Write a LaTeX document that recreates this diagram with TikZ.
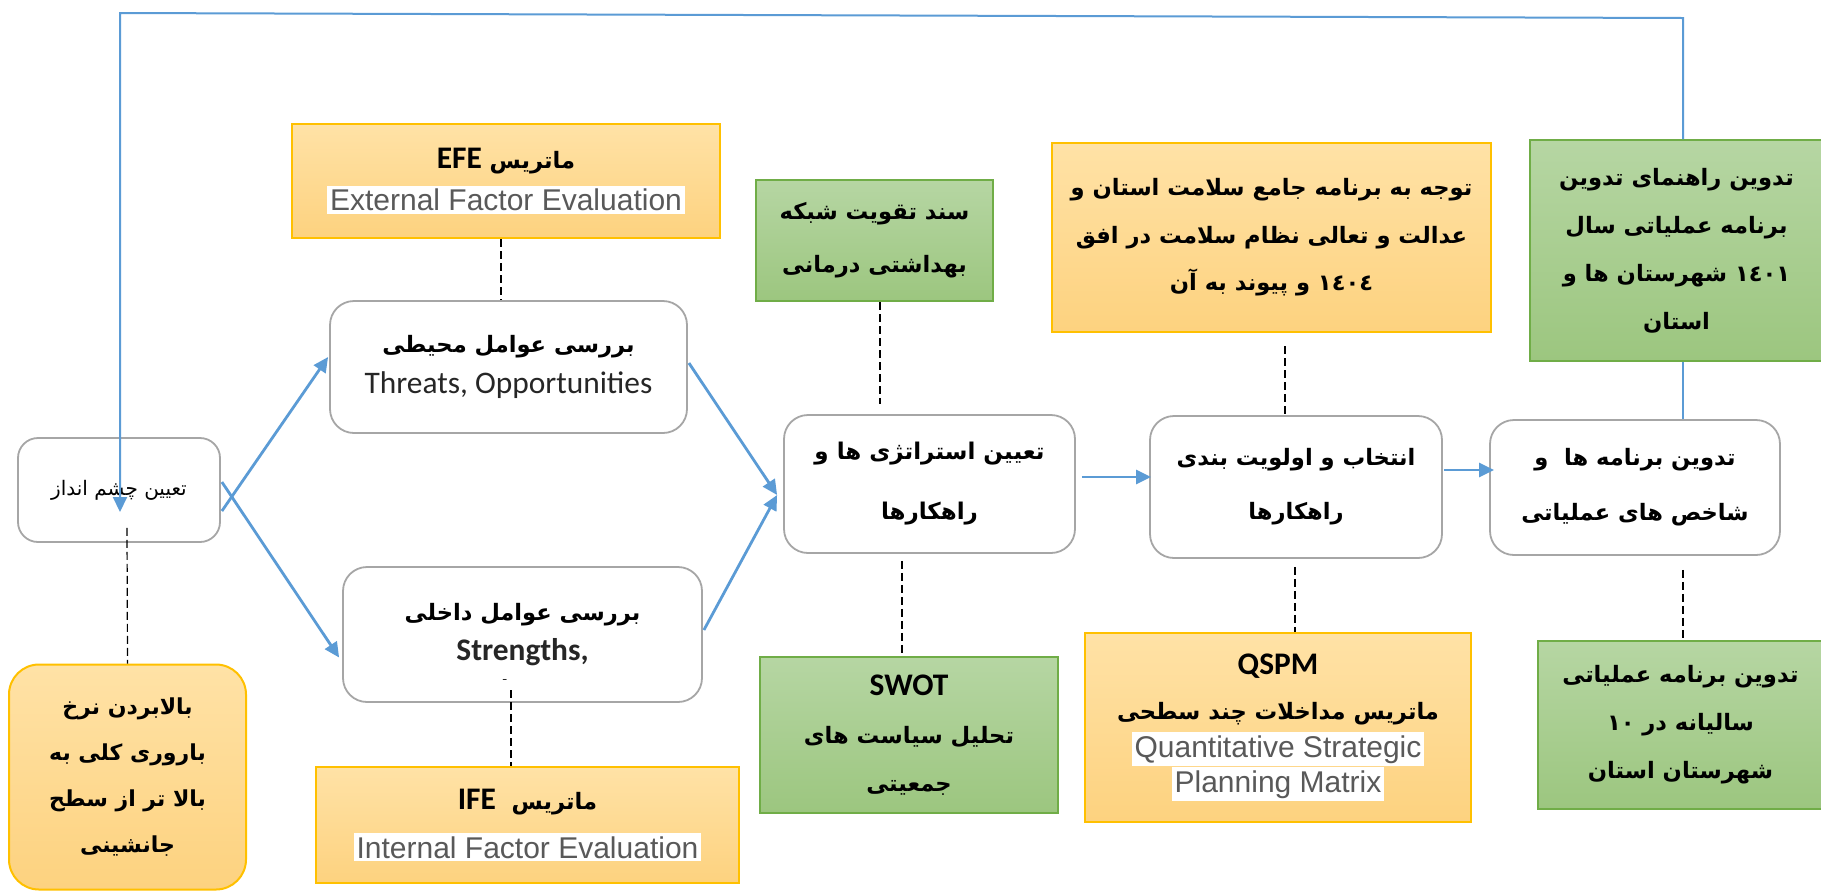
\documentclass[tikz,border=0pt]{standalone}
\usepackage{fontspec}
\TeXXeTstate=1
\newfontfamily\fafont[Script=Arabic]{DejaVu Sans}
\newfontfamily\calfont{Carlito}
\newfontfamily\arialfont{Liberation Sans}
\usetikzlibrary{arrows.meta,calc}
\definecolor{ablue}{HTML}{5B9BD5}
\definecolor{oborder}{HTML}{FFC000}
\definecolor{otop}{HTML}{FFE2A6}
\definecolor{obot}{HTML}{FDD27F}
\definecolor{gborder}{HTML}{70AD47}
\definecolor{gtop}{HTML}{B6D6A3}
\definecolor{gbot}{HTML}{9CC67F}
\definecolor{wborder}{HTML}{A6A6A6}
\definecolor{engray}{HTML}{595959}
\definecolor{entext}{HTML}{262626}
\newcommand\fa[1]{{\fafont\bfseries\beginR #1\endR}}
\newcommand\fan[1]{{\fafont\beginR #1\endR}}
\newcommand\ltr[1]{\beginL #1\endL{}}
\newcommand\fs[2]{\fontsize{#1}{#2}\selectfont\lineskiplimit=-100pt\relax}
\newcommand\hl[1]{{\fontsize{15}{18}\selectfont\arialfont\setlength\fboxsep{1.5pt}\colorbox{white}{\color{engray}#1}}}
\newcommand\cb[1]{{\fontsize{15.7}{18}\selectfont\calfont\bfseries #1}}
\tikzset{
  sz/.style 2 args={minimum width=#1*0.5pt, minimum height=#2*0.5pt},
  wbox/.style={draw=wborder, line width=0.9pt, rounded corners=10pt, fill=white, align=center, inner sep=0pt},
  obox/.style={draw=oborder, line width=1pt, top color=otop, bottom color=obot, align=center, inner sep=0pt},
  gbox/.style={draw=gborder, line width=1pt, top color=gtop, bottom color=gbot, align=center, inner sep=0pt},
  flow/.style={draw=ablue, line width=1.4pt, -{Triangle[length=7.5pt,width=7pt]}},
  link/.style={draw=black, line width=0.6pt, dash pattern=on 4pt off 2pt},
  back/.style={draw=ablue, line width=1pt},
}
\begin{document}
\begin{tikzpicture}[x=0.5pt, y=-0.5pt]
\useasboundingbox (0,0) rectangle (1821,890);

% nodes
\node[wbox, sz={202}{104}, font=\fs{10}{12}] (vision) at (119,490) {\fan{تعیین چشم انداز}};
\node[obox, rounded corners=15pt, sz={237}{225}, font=\fs{11}{23}] (goal) at (127.5,777) {\fa{بالابردن نرخ}\\\fa{باروری کلی به}\\\fa{بالا تر از سطح}\\\fa{جانشینی}};
\node[obox, sz={428}{114}, font=\fs{11.3}{21}] (efe) at (506,181) {\fa{ماتریس \ltr{\cb{EFE}}}\\\hl{External Factor Evaluation}};
\node[wbox, rounded corners=12pt, sz={357}{132}, font=\fs{11.3}{20.5}] (threats) at (508.5,367) {\fa{بررسی عوامل محیطی}\\{\fontsize{15.7}{18}\selectfont\calfont\color{entext}Threats, Opportunities}};
\node[wbox, rounded corners=12pt, sz={359}{135}, font=\fs{11.3}{20}] (internal) at (522.5,634.5) {\fa{بررسی عوامل داخلی}\\{\color{entext}\cb{Strengths,}}};
\node[font=\fs{6}{6}, inner sep=0pt] (dot) at (505,681) {-};
\node[obox, sz={423}{116}, font=\fs{11.3}{24.5}] (ife) at (527.5,825) {\fa{ماتریس \ \ltr{\cb{IFE}}}\\\hl{Internal Factor Evaluation}};
\node[gbox, sz={237}{121}, font=\fs{11.3}{26.5}] (network) at (874.5,240.5) {\fa{سند تقویت شبکه}\\\fa{بهداشتی درمانی}};
\node[wbox, rounded corners=12pt, sz={291}{138}, font=\fs{11.5}{30}] (strategy) at (929.5,484) {\fa{تعیین استراتژی ها و}\\\fa{راهکارها}};
\node[gbox, sz={298}{156}, font=\fs{11.3}{24}] (swot) at (909,735) {\cb{SWOT}\\\fa{تحلیل سیاست های}\\\fa{جمعیتی}};
\node[obox, sz={439}{189}, font=\fs{11.3}{23.75}] (horizon) at (1271.5,237.5) {\fa{توجه به برنامه جامع سلامت استان و}\\\fa{عدالت و تعالی نظام سلامت در افق}\\\fa{\ltr{١٤٠٤} و پیوند به آن}};
\node[wbox, rounded corners=12pt, sz={292}{142}, font=\fs{11.3}{27}] (select) at (1296,487) {\fa{انتخاب و اولویت بندی}\\\fa{راهکارها}};
\node[obox, sz={386}{189}, font=\fs{11.3}{17.5}] (qspm) at (1278,727.5) {\cb{QSPM}\\[5pt]\fa{ماتریس مداخلات چند سطحی}\\[1.5pt]\hl{Quantitative Strategic}\\\hl{Planning Matrix}};
\node[gbox, sz={293}{221}, font=\fs{11.3}{24}] (guide) at (1676.5,250.5) {\fa{تدوین راهنمای تدوین}\\\fa{برنامه عملیاتی سال}\\\fa{\ltr{١٤٠١} شهرستان ها و}\\\fa{استان}};
\node[wbox, rounded corners=12pt, sz={290}{135}, font=\fs{11.3}{27.5}] (programs) at (1635,487.5) {\fa{تدوین برنامه ها \ و}\\\fa{شاخص های عملیاتی}};
\node[gbox, sz={285}{168}, font=\fs{11.3}{24}] (annual) at (1680.5,725) {\fa{تدوین برنامه عملیاتی}\\\fa{سالیانه در \ltr{١٠}}\\\fa{شهرستان استان}};

% feedback loop
\coordinate (topR) at (1683,18);
\coordinate (topL) at (120,13);
\coordinate (vA) at (120,512);
\draw[back, -{Triangle[length=7.5pt,width=7pt]}] (guide.north -| topR) -- (topR) -- (topL) -- (vA);
\draw[back] (programs.north -| topR) -- (guide.south -| topR);

% flow arrows
\draw[flow] ($(vision.east)+(1,21)$) -- ($(threats.west)+(-1,-10)$);
\draw[flow] ($(vision.east)+(1,-8)$) -- ($(internal.west)+(-3,23)$);
\draw[flow] ($(threats.east)+(1,-4)$) -- ($(strategy.west)+(-6,11)$);
\draw[flow] ($(internal.east)+(1,-4.5)$) -- ($(strategy.west)+(-6,11)$);
\draw[flow] ($(strategy.east)+(6,-7)$) -- ($(select.west)+(2,-10)$);
\draw[flow] ($(select.east)+(1,-17)$) -- ($(programs.west)+(5,-17.5)$);

% dashed links
\draw[link] ($(vision.south)+(8,-15)$) -- (goal.north);
\draw[link] ($(efe.south)+(-5,0)$) -- ($(threats.north)+(-7.5,0)$);
\draw[link] ($(internal.south)+(-11.5,-12.5)$) -- ($(ife.north)+(-16.5,0)$);
\draw[link] ($(network.south)+(5.5,0)$) -- ($(strategy.north)+(-49.5,-10)$);
\draw[link] ($(strategy.south)+(-27.5,7)$) -- ($(swot.north)+(-7,0)$);
\draw[link] ($(horizon.south)+(13.5,13)$) -- ($(select.north)+(-11,0)$);
\draw[link] ($(select.south)+(-1,8)$) -- ($(qspm.north)+(17,0)$);
\draw[link] ($(programs.south)+(48,14)$) -- ($(annual.north)+(2.5,0)$);
\end{tikzpicture}
\end{document}
